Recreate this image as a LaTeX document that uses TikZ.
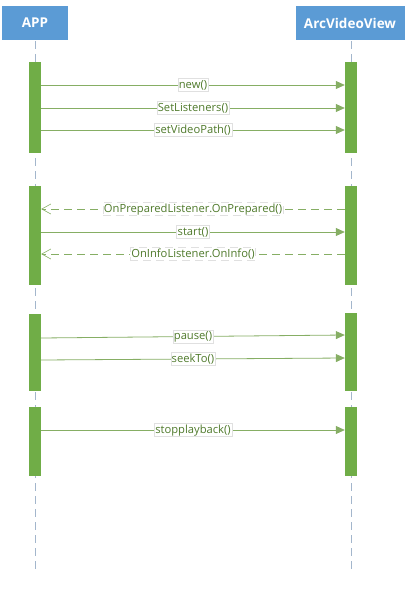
\documentclass[tikz,border=0pt]{standalone}
\usepackage{fontspec}
\setmainfont{Open Sans}
\usetikzlibrary{arrows.meta}

\definecolor{headblue}{HTML}{5B9BD5}
\definecolor{barGreen}{HTML}{70AD47}
\definecolor{msgGreen}{HTML}{86AE64}
\definecolor{txtGreen}{HTML}{4F7A2B}
\definecolor{lifeGray}{HTML}{A3B6CC}

\begin{document}
\begin{tikzpicture}[x=1pt,y=-1pt]
\tikzstyle{every node}+=[inner sep=0pt]
\tikzstyle{headbox}=[draw=white,line width=1pt,fill=headblue,text=white,
  font=\fontsize{13.5}{16}\selectfont\bfseries,minimum height=35pt]
\tikzstyle{lifebar}=[fill=barGreen,minimum width=12pt,anchor=north]
\tikzstyle{lifeline}=[lifeGray,line width=0.8pt,dash pattern=on 8pt off 5pt]
\tikzstyle{msg}=[msgGreen,line width=0.8pt,-{Triangle[length=9pt,width=8pt]}]
\tikzstyle{reply}=[msgGreen,line width=0.8pt,dash pattern=on 8pt off 5pt,
  -{Straight Barb[length=9pt,width=10pt,line width=0.6pt]}]
\tikzstyle{lbl}=[fill=white,draw=black!12,line width=0.4pt,inner xsep=1pt,
  inner ysep=1pt,text height=8.5pt,text depth=2.5pt,
  text=txtGreen,font=\fontsize{11.2}{13}\selectfont,pos=0.5]
\useasboundingbox (0,0) rectangle (410,605);

% heads and lifelines
\node[headbox,minimum width=67pt] (app) at (35,23) {APP};
\node[headbox,minimum width=110pt] (view) at (350,23) {ArcVideoView};
\coordinate (append) at (35,569);
\coordinate (viewend) at (351,573);
\draw[lifeline] (app.south) -- (append);
\draw[lifeline] (view.south -| viewend) -- (viewend);

% activation bars
\node[lifebar,minimum height=91pt] (a1) at (35,62) {};
\node[lifebar,minimum height=91pt] (b1) at (351,62) {};
\node[lifebar,minimum height=99pt] (a2) at (35,186) {};
\node[lifebar,minimum height=99pt] (b2) at (351,186) {};
\node[lifebar,minimum height=77pt] (a3) at (35,314) {};
\node[lifebar,minimum height=78pt] (b3) at (351,313) {};
\node[lifebar,minimum height=69pt] (a4) at (35,407) {};
\node[lifebar,minimum height=69pt] (b4) at (351,407) {};

% messages
\draw[msg] (a1.east |- 0,85) -- (b1.west |- 0,85) node[lbl] {new()};
\draw[msg] (a1.east |- 0,108) -- (b1.west |- 0,108) node[lbl] {SetListeners()};
\draw[msg] (a1.east |- 0,130) -- (b1.west |- 0,130) node[lbl] {setVideoPath()};
\draw[reply] (b2.west |- 0,209) -- (a2.east |- 0,209) node[lbl] {OnPreparedListener.OnPrepared()};
\draw[msg] (a2.east |- 0,232) -- (b2.west |- 0,232) node[lbl] {start()};
\draw[reply] (b2.west |- 0,254) -- (a2.east |- 0,254) node[lbl] {OnInfoListener.OnInfo()};
\draw[msg] (a3.east |- 0,338) -- (b3.west |- 0,335) node[lbl] {pause()};
\draw[msg] (a3.east |- 0,360) -- (b3.west |- 0,358) node[lbl] {seekTo()};
\draw[msg] (a4.east |- 0,430) -- (b4.west |- 0,430) node[lbl] {stopplayback()};
\end{tikzpicture}
\end{document}
